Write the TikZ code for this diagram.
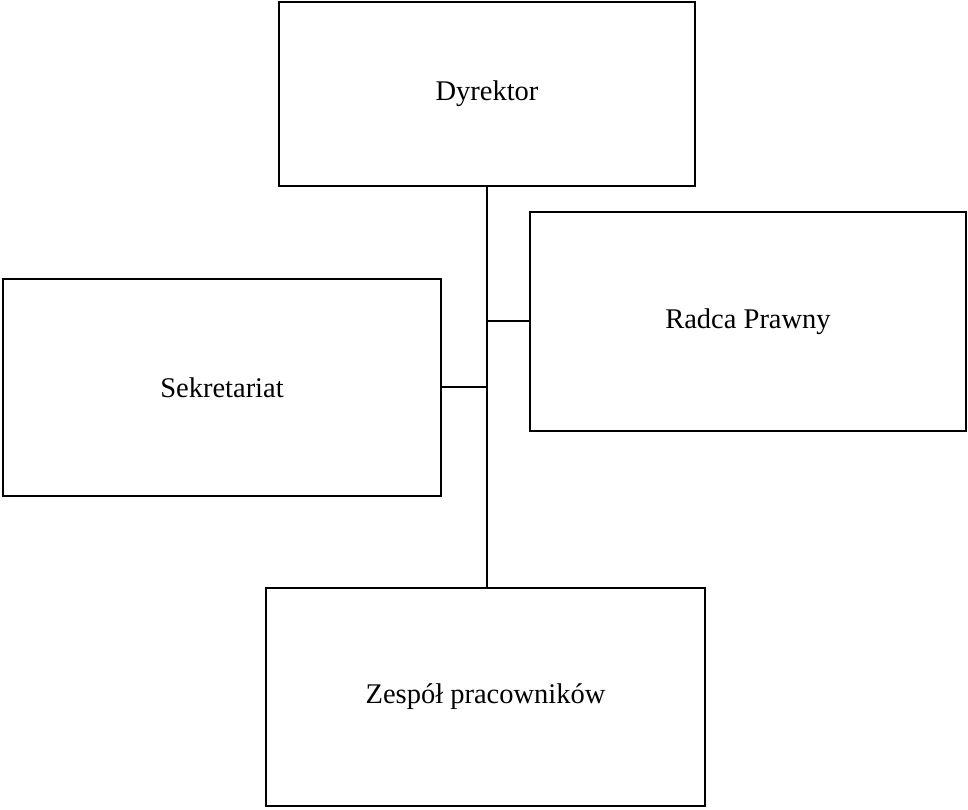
\documentclass[tikz,border=0pt]{standalone}
\usepackage{fontspec}
\setmainfont{Liberation Serif}
\usepackage{tikz}

\begin{document}
\begin{tikzpicture}[x=1pt, y=1pt,
        unit/.style={draw, rectangle, line width=2pt, font=\fontsize{28.5}{33}\selectfont}]
            \useasboundingbox (0,0) rectangle (968,810);

            \node[unit, minimum width=416pt, minimum height=184pt] (dyr) at (487,716) {Dyrektor};
            \node[unit, minimum width=436pt, minimum height=219pt] (radca) at (748,488.5) {Radca Prawny};
            \node[unit, minimum width=438pt, minimum height=217pt] (sekr) at (222,422.5) {Sekretariat};
            \node[unit, minimum width=439pt, minimum height=218pt] (zesp) at (485.5,113) {Zespół pracowników};

            \draw[line width=2.5pt] (dyr.south) -- (dyr.south |- zesp.north);
            \draw[line width=2pt] (dyr.south |- radca.west) -- (radca.west);
            \draw[line width=2pt] (sekr.east) -- (dyr.south |- sekr.east);
        \end{tikzpicture}
\end{document}
